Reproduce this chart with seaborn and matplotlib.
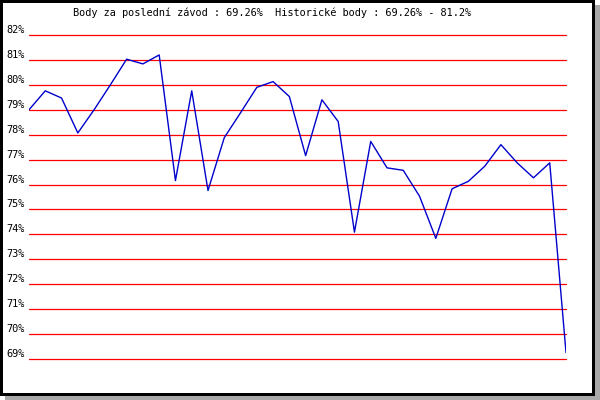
import matplotlib
matplotlib.use('Agg')
import matplotlib.pyplot as plt
import seaborn as sns
import pandas as pd
from matplotlib.patches import Rectangle

# body za jednotlivé závody (%)
body = [79.0, 79.76, 79.47, 78.07, 79.0, 80.0, 81.03, 80.84, 81.2, 76.16,
        79.76, 75.76, 77.88, 78.88, 79.9, 80.13, 79.53, 77.16, 79.4, 78.53,
        74.09, 77.73, 76.67, 76.57, 75.53, 73.84, 75.83, 76.13, 76.73, 77.6,
        76.87, 76.27, 76.87, 69.26]
ticks = list(range(69, 83))
tick_labels = [f'{t}%' for t in ticks]
title = 'Body za poslední závod : 69.26%  Historické body : 69.26% - 81.2%'

data = pd.DataFrame({'zavod': range(len(body)), 'body': body})

sns.set_style('white')
plt.rcParams['font.family'] = ['DejaVu Sans Mono']
plt.rcParams['text.color'] = 'black'
plt.rcParams['ytick.color'] = 'black'

W, H = 600, 400
fig = plt.figure(figsize=(6, 4), dpi=100)


def px(x0, y0, x1, y1):
    # obdélník v pixelech (shora dolů) -> souřadnice figury
    return (x0 / W, 1 - y1 / H), (x1 - x0) / W, (y1 - y0) / H


# stín a rámeček
for (x0, y0, x1, y1), c in [((5, 5, 600, 400), '#a8a8a8'),
                            ((0, 0, 595, 396), 'black'),
                            ((3, 3, 592, 393), 'white')]:
    xy, w, h = px(x0, y0, x1, y1)
    fig.add_artist(Rectangle(xy, w, h, transform=fig.transFigure,
                             facecolor=c, edgecolor='none', zorder=0))

ax = fig.add_axes([29 / W, 1 - 359 / H, (566 - 29) / W, (359 - 35) / H])
ax.patch.set_alpha(0)

for t in ticks:
    ax.axhline(t, color='red', lw=0.9, zorder=1, clip_on=False)

sns.lineplot(data=data, x='zavod', y='body', ax=ax, color='#0000cc', lw=1.0, zorder=3)

ax.set_xlim(0, len(body) - 1)
ax.set_ylim(69, 82)
ax.set_xticks([])
ax.set_yticks(ticks)
ax.set_yticklabels(tick_labels, fontsize=7.4, color='black')
for lab in ax.get_yticklabels():
    lab.set_va('bottom')
ax.tick_params(axis='y', length=0, pad=3)
ax.set_xlabel('')
ax.set_ylabel('')
for s in ax.spines.values():
    s.set_visible(False)

fig.text(272 / W, 1 - 13 / H, title, ha='center', va='center', fontsize=7.4, color='black')

fig.savefig('out.png', dpi=100)
